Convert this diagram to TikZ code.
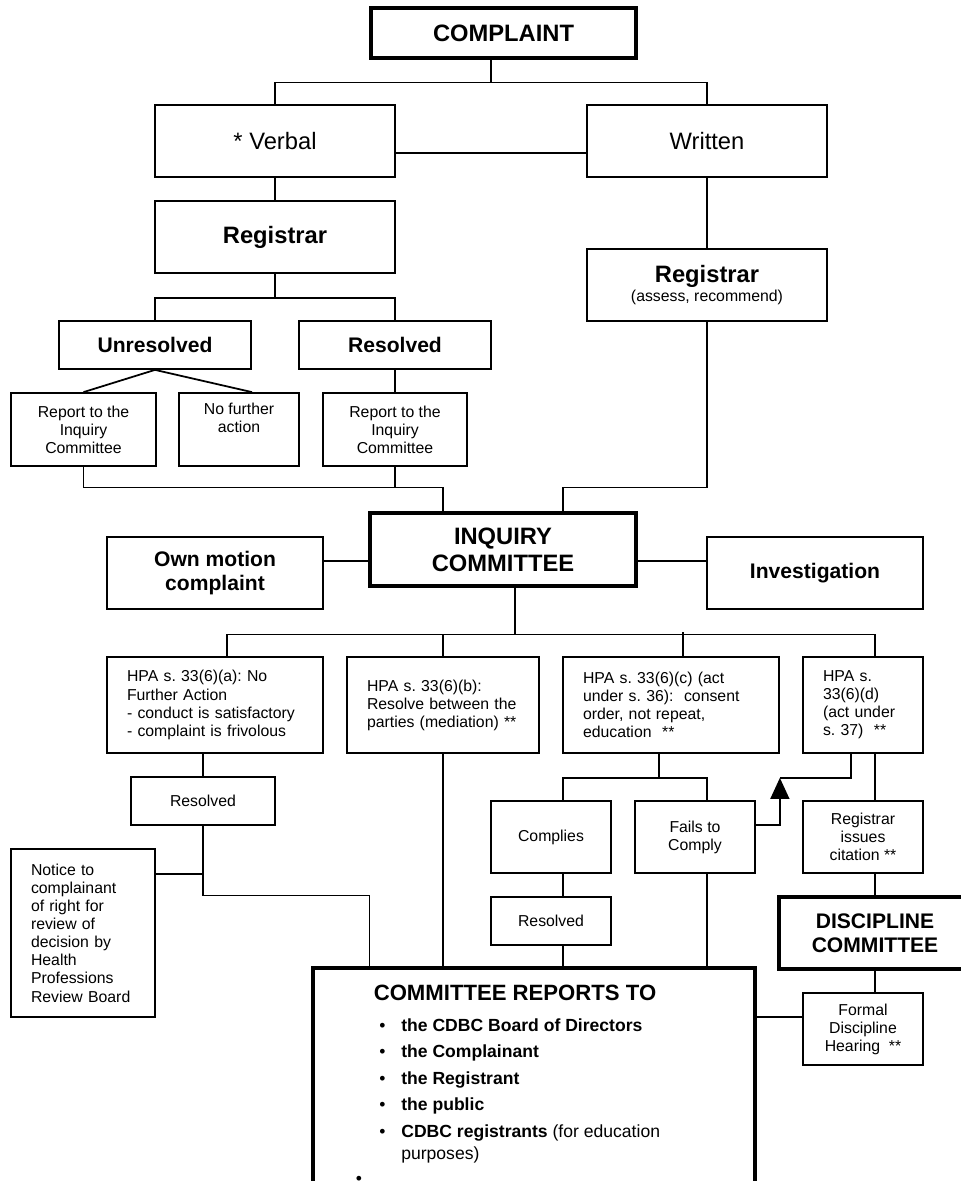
\documentclass[tikz,border=0pt]{standalone}
\usepackage{fontspec}
\setmainfont{Liberation Sans}
\usetikzlibrary{arrows.meta,calc}
\newcommand{\setfs}[2]{\fontsize{#1}{#2}\selectfont}
\frenchspacing
\tikzset{
  sz/.style 2 args={minimum width=#1*0.02cm,minimum height=#2*0.02cm},
  box/.style={draw,line width=1pt,inner sep=0pt,align=center,font=\setfs{9}{10.3}},
  bigbox/.style={box,line width=1.8pt},
  hpa/.style={box,align=left,text width=#1},
  link/.style={line width=1pt}
}

\begin{document}
\begin{tikzpicture}[x=0.02cm,y=-0.02cm]
  \useasboundingbox (0,0) rectangle (961,1181);
  \clip (0,0) rectangle (961,1181);

  % top of the chart
  \node[bigbox,sz={265}{50},font=\setfs{13.5}{15}\bfseries] (complaint) at (503.5,33) {COMPLAINT};
  \node[box,sz={240}{72},font=\setfs{13.5}{15}] (verbal) at (275,141) {* Verbal};
  \node[box,sz={240}{72},font=\setfs{13.5}{15}] (written) at (707,141) {Written};
  \node[box,sz={240}{72},font=\setfs{13.5}{15}\bfseries] (regv) at (275,237) {Registrar};
  \node[box,sz={240}{72}] (regw) at (707,285) {{\setfs{13.5}{15}\bfseries Registrar}\\(assess, recommend)};
  \node[box,sz={192}{48},font=\setfs{12}{13.7}\bfseries] (unres) at (155,345) {Unresolved};
  \node[box,sz={192}{48},font=\setfs{12}{13.7}\bfseries] (resv) at (395,345) {Resolved};
  \node[box,sz={145}{73}] (rep1) at (83.5,429.5) {Report to the\\Inquiry\\Committee};
  \node[box,sz={120}{73}] (nofa) at (239,429.5) {No further\\action\\\strut};
  \node[box,sz={144}{73}] (rep2) at (395,429.5) {Report to the\\Inquiry\\Committee};

  % inquiry committee
  \node[bigbox,sz={266}{73},font=\setfs{13.5}{15.4}\bfseries] (inq) at (503,549.5) {INQUIRY\\COMMITTEE};
  \node[box,sz={216}{72},font=\setfs{12}{13.7}\bfseries] (own) at (215,573) {Own motion\\complaint};
  \node[box,sz={216}{72},font=\setfs{12}{13.7}\bfseries] (invest) at (815,573) {Investigation};

  % HPA outcomes
  \node[hpa=3.52cm,sz={216}{96}] (hpaa) at (215,705) {HPA s. 33(6)(a): No\\Further Action\\- conduct is satisfactory\\- complaint is frivolous};
  \node[hpa=3.04cm,sz={192}{96}] (hpab) at (443,705) {HPA s. 33(6)(b):\\Resolve between the\\parties (mediation) **};
  \node[hpa=3.52cm,sz={216}{96}] (hpac) at (671,705) {HPA s. 33(6)(c) (act\\under s. 36):~ consent\\order, not repeat,\\education~ **};
  \node[hpa=1.6cm,sz={120}{96}] (hpad) at (863,705) {HPA s.\\33(6)(d)\\(act under\\s. 37)~ **};

  \node[box,sz={144}{48}] (resa) at (203,801) {Resolved};
  \node[hpa=2.08cm,sz={144}{168}] (notice) at (83,933) {Notice to\\complainant\\of right for\\review of\\decision by\\Health\\Professions\\Review Board};
  \node[box,sz={120}{72}] (compl) at (551,837) {Complies};
  \node[box,sz={120}{72}] (fails) at (695,837) {Fails to\\Comply};
  \node[box,sz={120}{48}] (resc) at (551,921) {Resolved};
  \node[box,sz={120}{72}] (regcit) at (863,837) {Registrar\\issues\\citation **};
  \node[bigbox,sz={192}{72},font=\setfs{12}{13.7}\bfseries] (disc) at (875,933) {DISCIPLINE\\COMMITTEE};
  \node[box,sz={120}{72}] (formal) at (863,1029) {Formal\\Discipline\\Hearing~ **};

  % report box
  \node[bigbox,sz={442}{240}] (reports) at (534,1088) {};
  \node[inner sep=0pt,font=\setfs{12.6}{14}\bfseries] (reptitle) at (515,993) {COMMITTEE REPORTS TO};
  \node[inner sep=0pt,anchor=north west,align=left,font=\setfs{10}{12.5}] (replist) at (379,1018) {%
    \makebox[12.5pt][l]{\textbullet}\textbf{the CDBC Board of Directors}\\[2.6pt]
    \makebox[12.5pt][l]{\textbullet}\textbf{the Complainant}\\[2.6pt]
    \makebox[12.5pt][l]{\textbullet}\textbf{the Registrant}\\[2.6pt]
    \makebox[12.5pt][l]{\textbullet}\textbf{the public}\\[2.6pt]
    \makebox[12.5pt][l]{\textbullet}\textbf{CDBC registrants} (for education\\
    \hspace*{12.5pt}purposes)};
  \node[inner sep=0pt,anchor=north,font=\setfs{10}{12.5}] (stray) at (359,1176) {\textbullet};

  % connectors
  \coordinate (top) at ($(complaint.south)+(-12.5,23)$);
  \draw[link] (complaint.south -| top) -- (top);
  \draw[link] (verbal.north) |- (top) -| (written.north);
  \draw[link] ($(verbal.east)+(0,12)$) -- ($(written.west)+(0,12)$);
  \draw[link] (verbal) -- (regv);
  \draw[link] (written) -- (regw);
  \coordinate (vsplit) at ($(regv.south)+(0,24)$);
  \draw[link] (regv.south) -- (vsplit);
  \draw[link] (unres.north) |- (vsplit) -| (resv.north);
  \draw[link] (rep1.north) -- (unres.south) -- ($(nofa.north)+(13,0)$);
  \draw[link] (resv) -- (rep2);
  \coordinate (injL) at ($(inq.north)+(-60,-24)$);
  \coordinate (injR) at ($(inq.north)+(60,-24)$);
  \draw[link] (rep1.south) |- (injL) -- (injL |- inq.north);
  \draw[link] (rep2.south) -- (rep2.south |- injL);
  \draw[link] (regw.south) |- (injR) -- (injR |- inq.north);
  \draw[link] ($(own.east)+(0,-12)$) -- ($(inq.west)+(0,11.5)$);
  \draw[link] ($(inq.east)+(0,11.5)$) -- ($(invest.west)+(0,-12)$);
  \coordinate (isplit) at ($(inq.south)+(12,47)$);
  \draw[link] ($(inq.south)+(12,0)$) -- (isplit);
  \draw[link] ($(hpaa.north)+(12,0)$) |- (isplit) -| ($(hpad.north)+(12,0)$);
  \draw[link] (hpab.north) -- (hpab.north |- isplit);
  \draw[link] ($(hpac.north)+(12,0)$) -- ($(hpac.north)+(12,-24)$);
  \draw[link] ($(hpaa.south)+(-12,0)$) -- (resa.north);
  \coordinate (rjoin) at ($(reports.north west)+(58,-71)$);
  \draw[link] (resa.south) |- (rjoin) -- (rjoin |- reports.north);
  \coordinate (nj) at ($(resa.south)+(0,48)$);
  \draw[link] (nj) -- (nj -| notice.east);
  \draw[link] (hpab.south) -- (hpab.south |- reports.north);
  \coordinate (csplit) at ($(hpac.south)+(-12,24)$);
  \draw[link] ($(hpac.south)+(-12,0)$) -- (csplit);
  \draw[link] ($(compl.north)+(12,0)$) |- (csplit) -| ($(fails.north)+(12,0)$);
  \draw[link] ($(compl.south)+(12,0)$) -- ($(resc.north)+(12,0)$);
  \coordinate (rc) at ($(resc.south)+(12,0)$);
  \draw[link] (rc) -- (rc |- reports.north);
  \coordinate (fc) at ($(fails.south)+(12,0)$);
  \draw[link] (fc) -- (fc |- reports.north);
  \coordinate (acorner) at ($(hpac.south east)+(0,24)$);
  \draw[link,-{Triangle[length=12pt,width=10.8pt]}] ($(fails.east)+(0,-12)$) -| (acorner);
  \draw[link] ($(hpad.south)+(-12,0)$) |- (acorner);
  \draw[link] ($(hpad.south)+(12,0)$) -- ($(regcit.north)+(12,0)$);
  \draw[link] ($(regcit.south)+(12,0)$) -- (disc.north);
  \draw[link] (disc.south) -- ($(formal.north)+(12,0)$);
  \coordinate (fj) at ($(formal.west)+(0,-12)$);
  \draw[link] (fj) -- (fj -| reports.east);
\end{tikzpicture}
\end{document}
